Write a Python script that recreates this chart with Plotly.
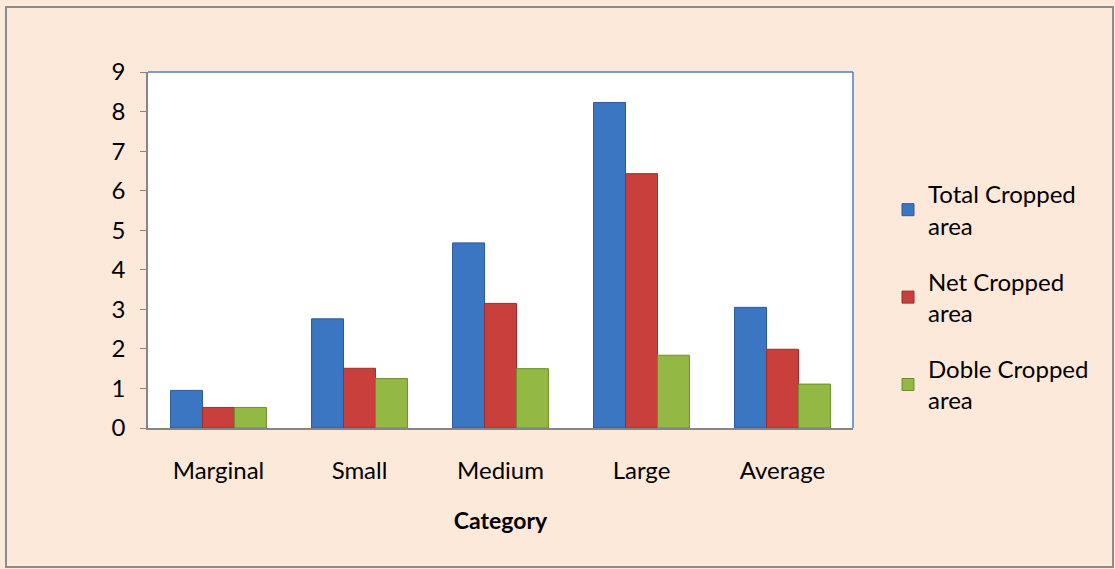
import plotly.graph_objects as go

categories = ["Marginal", "Small", "Medium", "Large", "Average"]
total_cropped = [0.95, 2.76, 4.68, 8.23, 3.05]
net_cropped = [0.52, 1.51, 3.15, 6.43, 1.99]
doble_cropped = [0.52, 1.25, 1.50, 1.84, 1.11]
series_names = ["Total Cropped<br>area", "Net Cropped<br>area", "Doble Cropped<br>area"]
y_ticks = list(range(0, 10))

colors = ["#3B76C2", "#C93F3B", "#93B843"]
edges = ["#2A5A98", "#9A2E2B", "#6E8E2E"]

fig = go.Figure()
for i, (name, vals) in enumerate(zip(series_names, [total_cropped, net_cropped, doble_cropped])):
    fig.add_trace(go.Bar(
        x=categories, y=vals, name=name,
        marker=dict(color=colors[i], line=dict(color=edges[i], width=1)),
        legendgroup=f"g{i}",
    ))

W, H = 1115, 569
L, R, T, B = 148, 262, 72, 141
pw, ph = W - L - R, H - T - B

def px(x):
    return (x - L) / pw

def py(y):
    return (H - B - y) / ph

fig.update_layout(
    width=W, height=H,
    margin=dict(l=L, r=R, t=T, b=B),
    paper_bgcolor="#FDE9DA",
    plot_bgcolor="#FFFFFF",
    font=dict(family="Lato, 'Open Sans', sans-serif", size=24, color="#000000"),
    barmode="group",
    bargap=0.32,
    bargroupgap=0,
    showlegend=True,
    legend=dict(
        x=px(888), y=py(172), xanchor="left", yanchor="top",
        bgcolor="rgba(0,0,0,0)", font=dict(size=24),
        tracegroupgap=22, itemwidth=30,
    ),
    xaxis=dict(
        title=dict(text="<b>Category</b>", font=dict(size=23), standoff=30),
        showline=True, linecolor="#868686", linewidth=1.5,
        ticks="", showgrid=False, mirror=False,
        tickfont=dict(size=24),
        ticklabelstandoff=20,
    ),
    yaxis=dict(
        range=[0, 9], tickvals=y_ticks,
        showline=True, linecolor="#868686", linewidth=1.5,
        ticks="outside", ticklen=6, tickcolor="#868686",
        showgrid=False, zeroline=False,
        tickfont=dict(size=24),
        ticklabelstandoff=10,
    ),
    shapes=[
        dict(type="rect", xref="paper", yref="paper",
             x0=px(6), x1=px(1113), y0=py(567), y1=py(7),
             line=dict(color="#8C8C8C", width=2), fillcolor="rgba(0,0,0,0)", layer="below"),
        dict(type="line", xref="paper", yref="paper", x0=0, x1=1, y0=1, y1=1,
             line=dict(color="#4F81BD", width=1.5)),
        dict(type="line", xref="paper", yref="paper", x0=1, x1=1, y0=0, y1=1,
             line=dict(color="#4F81BD", width=1.5)),
    ],
)

fig.write_html("out.html")
